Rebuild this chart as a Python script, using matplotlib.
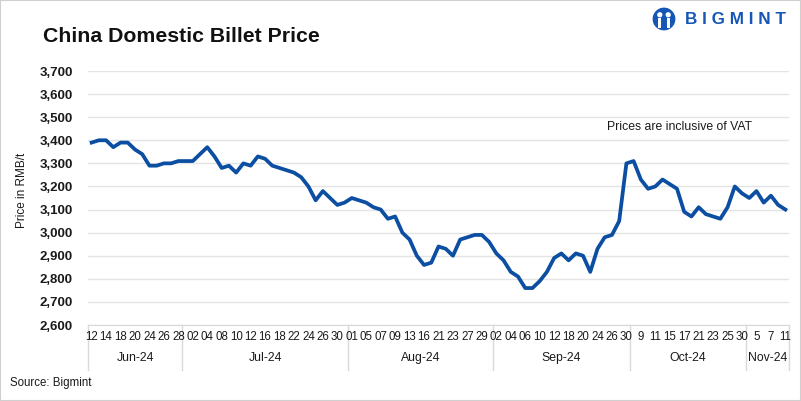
import matplotlib
matplotlib.use("Agg")
import matplotlib.pyplot as plt
from matplotlib.patches import Rectangle, Circle, Ellipse

plt.rcParams['font.family'] = ['Liberation Sans', 'DejaVu Sans']

# billet price, RMB/t, one value per trading day (12 Jun - 11 Nov 2024)
prices = [3390, 3400, 3400, 3370, 3390, 3390, 3360, 3340, 3290, 3290,
          3300, 3300, 3310, 3310, 3310, 3340, 3370, 3330, 3280, 3290,
          3260, 3300, 3290, 3330, 3320, 3290, 3280, 3270, 3260, 3240,
          3200, 3140, 3180, 3150, 3120, 3130, 3150, 3140, 3130, 3110,
          3100, 3060, 3070, 3000, 2970, 2900, 2860, 2870, 2940, 2930,
          2900, 2970, 2980, 2990, 2990, 2960, 2910, 2880, 2830, 2810,
          2760, 2760, 2790, 2830, 2890, 2910, 2880, 2910, 2900, 2830,
          2930, 2980, 2990, 3050, 3300, 3310, 3230, 3190, 3200, 3230,
          3210, 3190, 3090, 3070, 3110, 3080, 3070, 3060, 3110, 3200,
          3170, 3150, 3180, 3130, 3160, 3120, 3100]

# labelled days (every other trading day)
day_labels = ['12', '14', '18', '20', '24', '26', '28',
              '02', '04', '08', '10', '12', '16', '18', '22', '24', '26', '30',
              '01', '05', '07', '09', '13', '16', '21', '23', '27', '29',
              '02', '04', '06', '10', '12', '18', '20', '24', '26', '30',
              '9', '11', '15', '17', '21', '23', '25', '30',
              '5', '7', '11']
months = ['Jun-24', 'Jul-24', 'Aug-24', 'Sep-24', 'Oct-24', 'Nov-24']
month_days = [13, 23, 20, 19, 16, 6]

W, H = 801, 401
fig = plt.figure(figsize=(W / 100, H / 100), dpi=100)
fig.patches.append(Rectangle((0, 0), 1, 1, transform=fig.transFigure,
                             fill=False, edgecolor='#d0d0d0', lw=1.5))

L, R, T, B = 88, 789, 71, 325
ax = fig.add_axes([L / W, 1 - B / H, (R - L) / W, (B - T) / H])

x = list(range(len(prices)))
ax.plot(x, prices, color='#0B4EA2', lw=2.7, solid_joinstyle='round')

ax.set_xlim(-0.5, len(prices) - 0.5)
ax.set_ylim(2600, 3700)
ax.set_yticks(range(2600, 3701, 100))
ax.set_yticklabels([f'{v:,}' for v in range(2600, 3701, 100)],
                   fontsize=9.5, fontweight='bold')
ax.tick_params(axis='y', length=0, pad=11, colors='#1a1a1a')
ax.set_xticks([])
ax.grid(axis='y', color='#e4e4e4', lw=1)
ax.set_axisbelow(True)
for s in ['top', 'right', 'left']:
    ax.spines[s].set_visible(False)
ax.spines['bottom'].set_color('#d9d9d9')

tr = ax.get_xaxis_transform()
for i, lab in enumerate(day_labels):
    ax.text(2 * i, -0.047, lab, transform=tr, ha='center', va='center',
            fontsize=8.3, color='#1a1a1a')

start = 0
edges = [-0.5]
for m, n in zip(months, month_days):
    ax.text(start + (n - 1) / 2, -0.13, m, transform=tr, ha='center',
            va='center', fontsize=8.8, color='#1a1a1a')
    start += n
    edges.append(start - 0.5)
for e in edges:
    ax.plot([e, e], [0, -0.177], transform=tr, color='#d9d9d9', lw=1,
            clip_on=False)

ax.set_ylabel('Price in RMB/t', fontsize=8.5, color='#1a1a1a')
ax.yaxis.set_label_coords(-60 / (R - L), 0.53)

ax.text((607 - L) / (R - L), 0.78, 'Prices are inclusive of VAT',
        transform=ax.transAxes, fontsize=8.8, va='center', color='#1a1a1a')

fig.text(43 / W, 1 - 37 / H, 'China Domestic Billet Price', fontsize=15.3,
         fontweight='bold', va='center', color='#111111')
fig.text(10 / W, 1 - 383 / H, 'Source: Bigmint', fontsize=8.3, va='center',
         color='#1a1a1a')

# logo
lg = fig.add_axes([652 / W, 1 - 31 / H, 24 / W, 24 / H])
lg.set_xlim(-1, 1)
lg.set_ylim(-1, 1)
lg.axis('off')
lg.add_patch(Ellipse((0, 0), 1.9, 1.9, facecolor='#1656B4', edgecolor='none'))
lg.add_patch(Circle((-0.35, 0.35), 0.22, facecolor='white', edgecolor='none'))
lg.add_patch(Circle((0.35, 0.35), 0.22, facecolor='white', edgecolor='none'))
lg.add_patch(Rectangle((-0.52, -0.75), 0.3, 0.85, facecolor='white', edgecolor='none'))
lg.add_patch(Rectangle((0.22, -0.75), 0.3, 0.85, facecolor='white', edgecolor='none'))
fig.text(685 / W, 1 - 19 / H, 'B I G M I N T', fontsize=12.3,
         fontweight='bold', va='center', color='#1656B4')

fig.savefig('out.png', dpi=100)
